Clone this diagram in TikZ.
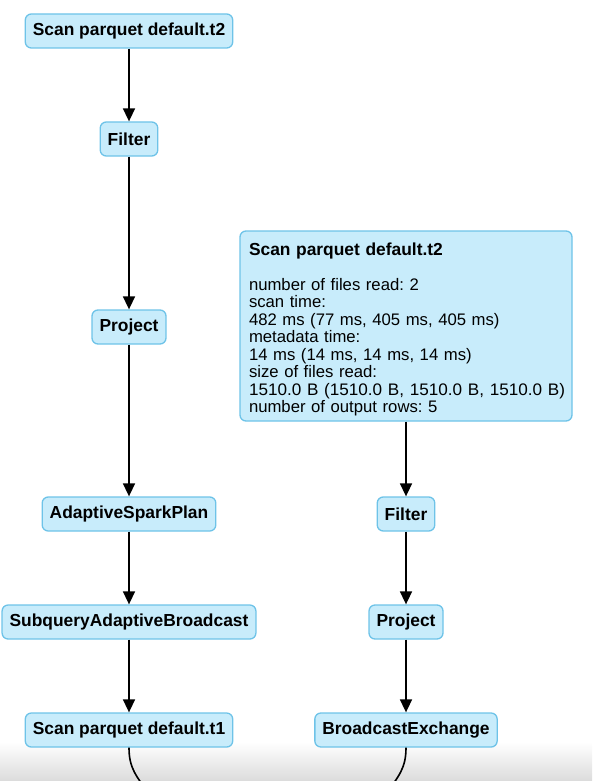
\documentclass[tikz,border=0pt]{standalone}
\usepackage{fontspec}
\usepackage{graphicx}
\setmainfont{Liberation Sans}
\usetikzlibrary{arrows.meta}
\definecolor{nodefill}{RGB}{200,236,251}
\definecolor{nodedraw}{RGB}{110,195,232}
\begin{document}
\frenchspacing
\begin{tikzpicture}[x=1pt,y=-1pt,
  op/.style={draw=nodedraw, fill=nodefill, line width=1.3pt, rounded corners=6pt,
    minimum height=34pt, inner xsep=7.5pt, inner ysep=4pt,
    font=\fontsize{17.4}{17.5}\selectfont\bfseries},
  detail/.style={op, text width=314pt, align=left, minimum height=190pt, inner xsep=9pt,
    font=\fontsize{16.7}{17.5}\selectfont},
  flow/.style={-{Triangle[length=13pt,width=12pt]}, line width=1.6pt, black},
  link/.style={line width=1.6pt, black}]
\useasboundingbox (0,0) rectangle (592,781);
\shade[top color=white, bottom color=black!14] (0,742) rectangle (592,781);
% left column
\node[op] (s2) at (129,31) {Scan parquet default.t2};
\node[op] (f1) at (129,139) {Filter};
\node[op] (p1) at (129,327) {Project};
\node[op] (asp) at (129,514) {AdaptiveSparkPlan};
\node[op] (sab) at (129,622) {SubqueryAdaptiveBroadcast};
\node[op] (s1) at (129,730) {Scan parquet default.t1};
% right column
\node[detail] (big) at (406,326) {\rule{0pt}{19pt}{\fontsize{17.4}{17.5}\selectfont\bfseries Scan parquet default.t2}\\[17.5pt]
number of files read: 2\\
scan time:\\
482 ms (77 ms, 405 ms, 405 ms)\\
metadata time:\\
14 ms (14 ms, 14 ms, 14 ms)\\
size of files read:\\
\resizebox{316pt}{\height}{1510.0 B (1510.0 B, 1510.0 B, 1510.0 B)}\\
number of output rows: 5};
\node[op] (f2) at (406,514) {Filter};
\node[op] (p2) at (406,622) {Project};
\node[op] (be) at (406,730) {BroadcastExchange};
% edges
\draw[flow] (s2) -- (f1);
\draw[flow] (f1) -- (p1);
\draw[flow] (p1) -- (asp);
\draw[flow] (asp) -- (sab);
\draw[flow] (sab) -- (s1);
\draw[flow] (big) -- (f2);
\draw[flow] (f2) -- (p2);
\draw[flow] (p2) -- (be);
% outgoing edges leaving the picture
\coordinate (l2) at (150,795);
\coordinate (r2) at (385,795);
\begin{scope}
\clip (0,0) rectangle (592,781);
\draw[link] (s1.south) .. controls (129,768) and (136,776) .. (l2);
\draw[link] (be.south) .. controls (406,768) and (399,776) .. (r2);
\end{scope}
\end{tikzpicture}
\end{document}
